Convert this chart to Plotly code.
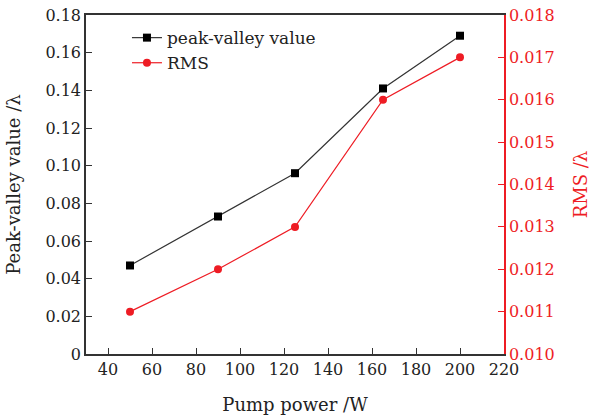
import plotly.graph_objects as go

power_w = [50, 90, 125, 165, 200]
peak_valley = [0.047, 0.073, 0.096, 0.141, 0.169]
rms = [0.011, 0.012, 0.013, 0.016, 0.017]

x_ticks = [40, 60, 80, 100, 120, 140, 160, 180, 200, 220]
left_ticks = [0, 0.02, 0.04, 0.06, 0.08, 0.10, 0.12, 0.14, 0.16, 0.18]
left_tick_text = ["0", "0.02", "0.04", "0.06", "0.08", "0.10", "0.12", "0.14", "0.16", "0.18"]
right_ticks = [0.010, 0.011, 0.012, 0.013, 0.014, 0.015, 0.016, 0.017, 0.018]

FONT = "DejaVu Serif"
RED = "#ee1c24"
DARK = "#333333"
FS = 16   # tick labels
TS = 18   # titles

fig = go.Figure()
fig.add_trace(go.Scatter(
    x=power_w, y=peak_valley, name="peak-valley value",
    mode="lines+markers",
    line=dict(color=DARK, width=1.2),
    marker=dict(symbol="square", size=8, color="black"),
    yaxis="y"))
fig.add_trace(go.Scatter(
    x=power_w, y=rms, name="RMS",
    mode="lines+markers",
    line=dict(color=RED, width=1.2),
    marker=dict(symbol="circle", size=8, color=RED),
    yaxis="y2"))

fig.update_layout(
    width=591, height=419,
    margin=dict(l=86, r=87, t=15, b=65, autoexpand=False),
    paper_bgcolor="white", plot_bgcolor="white",
    font=dict(family=FONT, size=FS, color="#222222"),
    showlegend=True,
    legend=dict(x=0.098, y=0.985, xanchor="left", yanchor="top",
                bgcolor="rgba(0,0,0,0)", font=dict(family=FONT, size=17),
                itemwidth=30, tracegroupgap=0),
    xaxis=dict(range=[30, 220], tickvals=x_ticks, ticks="inside", ticklen=6,
               tickcolor=DARK, tickwidth=1.3, automargin=False,
               showline=True, linecolor=DARK, linewidth=1.5, mirror=True,
               showgrid=False, zeroline=False,
               tickfont=dict(family=FONT, size=FS, color="#222222"),
               title=dict(text="Pump power /W", font=dict(family=FONT, size=TS), standoff=20)),
    yaxis=dict(range=[0, 0.18], tickvals=left_ticks, ticktext=left_tick_text,
               ticks="inside", ticklen=6, tickcolor=DARK, tickwidth=1.3, automargin=False,
               showline=True, linecolor=DARK, linewidth=1.5,
               showgrid=False, zeroline=False,
               tickfont=dict(family=FONT, size=FS, color="#222222"),
               title=dict(text="Peak-valley value /λ", font=dict(family=FONT, size=TS), standoff=20)),
    yaxis2=dict(range=[0.010, 0.018], tickvals=right_ticks, tickformat=".3f",
                overlaying="y", side="right", automargin=False,
                ticks="inside", ticklen=6, tickcolor=RED, tickwidth=1.3,
                showline=True, linecolor=RED, linewidth=1.5,
                showgrid=False, zeroline=False,
                tickfont=dict(family=FONT, size=FS, color=RED),
                title=dict(text="RMS /λ", font=dict(family=FONT, size=TS, color=RED), standoff=24)),
)

fig.write_html("out.html")
